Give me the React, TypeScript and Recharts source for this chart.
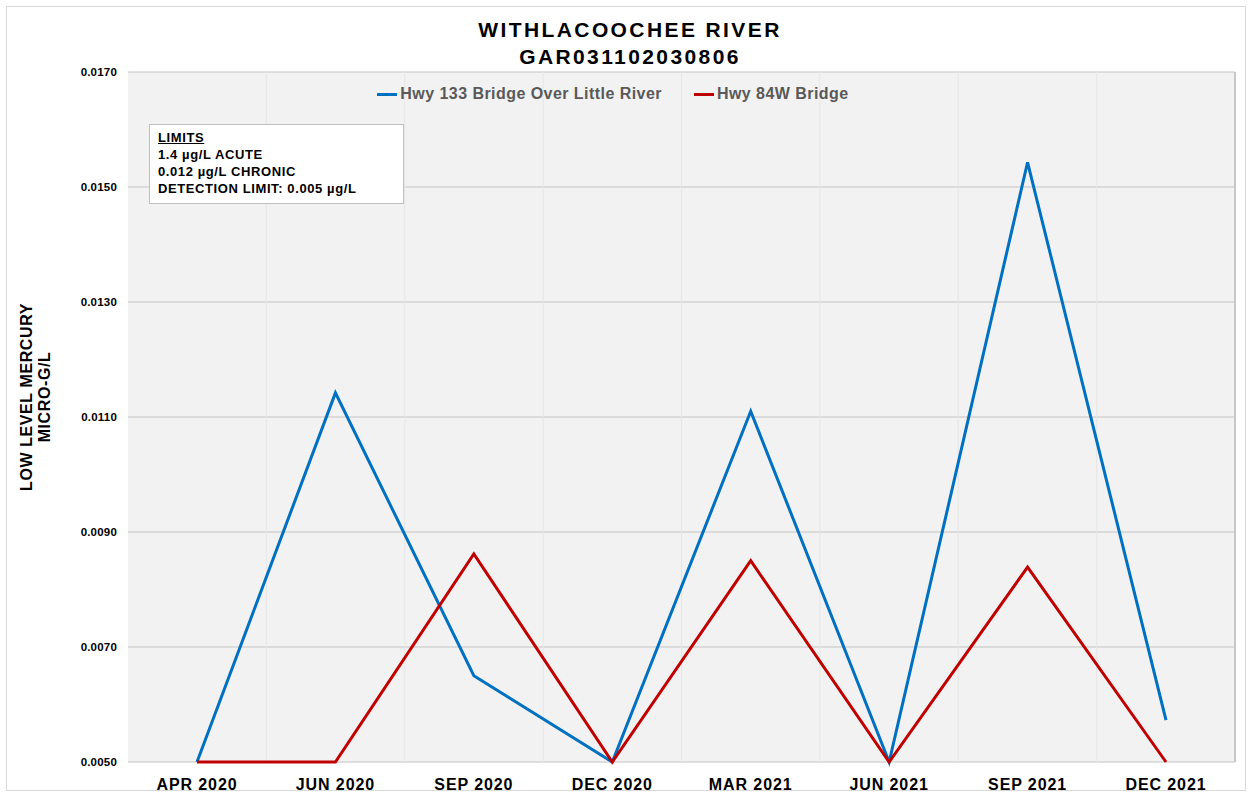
import { LineChart, Line, XAxis, YAxis, CartesianGrid } from "recharts";

const months = ["APR 2020", "JUN 2020", "SEP 2020", "DEC 2020", "MAR 2021", "JUN 2021", "SEP 2021", "DEC 2021"];
const littleRiver = [0.005, 0.01142, 0.0065, 0.005, 0.0111, 0.005, 0.01543, 0.00573];
const hwy84w = [0.005, 0.005, 0.00862, 0.005, 0.0085, 0.005, 0.00839, 0.005];
const yTicks = [0.005, 0.007, 0.009, 0.011, 0.013, 0.015, 0.017];
const seriesNames = ["Hwy 133 Bridge Over Little River", "Hwy 84W Bridge"];
const seriesColors = ["#0070c0", "#c00000"];

const data = months.map((m, i) => ({ month: m, a: littleRiver[i], b: hwy84w[i] }));

const font = "'Liberation Sans', Arial, sans-serif";

function LegendBox() {
  return (
    <div
      style={{
        position: "absolute",
        left: 0,
        top: 84,
        width: 1226,
        display: "flex",
        justifyContent: "center",
        gap: 32,
        fontFamily: font,
        fontWeight: 700,
        fontSize: 16,
        letterSpacing: 0.45,
        color: "#595959",
        lineHeight: "20px",
      }}
    >
      {seriesNames.map((name, i) => (
        <div key={name} style={{ display: "flex", alignItems: "center" }}>
          <span style={{ display: "inline-block", width: 20, height: 3, background: seriesColors[i], marginRight: 3 }} />
          {name}
        </div>
      ))}
    </div>
  );
}

export default function App() {
  return (
    <div style={{ position: "absolute", left: 0, top: 0, width: 1251, height: 794, background: "#fff", fontFamily: font }}>
      <div style={{ position: "absolute", left: 6, top: 6, width: 1238, height: 783, border: "1px solid #d9d9d9" }} />
      <LineChart width={1251} height={794} data={data} margin={{ top: 72, right: 16, bottom: 0, left: 0 }}>
        <CartesianGrid fill="#f2f2f2" stroke="#c4c4c4" vertical={false} />
        <CartesianGrid
          stroke="#e6e6e6"
          horizontal={false}
          verticalCoordinatesGenerator={({ offset }: any) =>
            Array.from({ length: months.length - 1 }, (_, i) => offset.left + ((i + 1) * offset.width) / months.length)
          }
        />
        <XAxis
          dataKey="month"
          height={32}
          padding={{ left: 69, right: 69 }}
          axisLine={false}
          tickLine={false}
          tickMargin={11}
          tick={{ fill: "#000", fontSize: 16, fontWeight: 700, fontFamily: font, letterSpacing: 0.9 }}
          interval={0}
        />
        <YAxis
          width={128}
          domain={[0.005, 0.017]}
          ticks={yTicks}
          tickFormatter={(v: number) => v.toFixed(4)}
          axisLine={false}
          tickLine={false}
          tickMargin={5}
          tick={{ fill: "#000", fontSize: 11.5, fontWeight: 700, fontFamily: font, letterSpacing: 0.2 }}
        />
        <Line dataKey="a" name={seriesNames[0]} stroke={seriesColors[0]} strokeWidth={3} dot={false} isAnimationActive={false} />
        <Line dataKey="b" name={seriesNames[1]} stroke={seriesColors[1]} strokeWidth={3} dot={false} isAnimationActive={false} />
      </LineChart>
      <div style={{ position: "absolute", left: 1234, top: 72, width: 2, height: 690, background: "#c8c8c8" }} />
      <LegendBox />
      <div style={{ position: "absolute", left: 0, top: 16, width: 1260, textAlign: "center", fontWeight: 700, fontSize: 21, letterSpacing: 2.4, lineHeight: "27px" }}>
        WITHLACOOCHEE RIVER
        <br />
        GAR031102030806
      </div>
      <div
        style={{
          position: "absolute",
          left: 149,
          top: 124,
          width: 237,
          padding: "4px 8px",
          height: 70,
          background: "#fff",
          border: "1px solid #bfbfbf",
          fontSize: 13,
          fontWeight: 700,
          letterSpacing: 0.6,
          lineHeight: "17px",
        }}
      >
        <div style={{ textDecoration: "underline" }}>LIMITS</div>
        <div>1.4 µg/L ACUTE</div>
        <div>0.012 µg/L CHRONIC</div>
        <div>DETECTION LIMIT: 0.005 µg/L</div>
      </div>
      <div
        style={{
          position: "absolute",
          left: 36,
          top: 397,
          transform: "translate(-50%, -50%) rotate(-90deg)",
          whiteSpace: "nowrap",
          textAlign: "center",
          fontSize: 16,
          fontWeight: 700,
          letterSpacing: 0.6,
          lineHeight: "18px",
        }}
      >
        LOW LEVEL MERCURY
        <br />
        MICRO-G/L
      </div>
    </div>
  );
}
